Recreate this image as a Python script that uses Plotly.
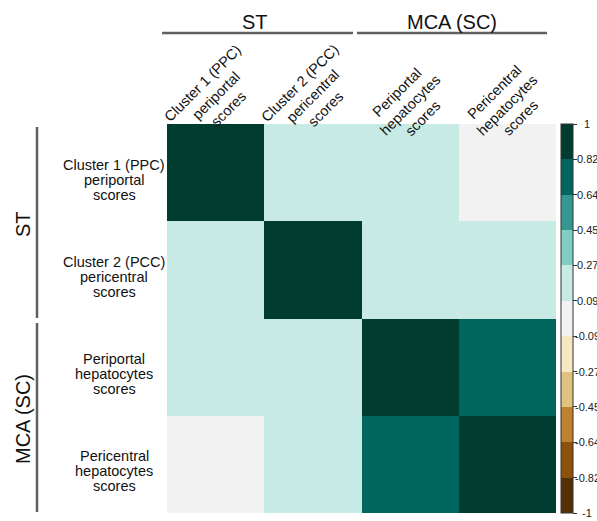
import math
import plotly.graph_objects as go

# Score categories (rows and columns share the same order)
categories = [
    "Cluster 1 (PPC)<br>periportal<br>scores",
    "Cluster 2 (PCC)<br>pericentral<br>scores",
    "Periportal<br>hepatocytes<br>scores",
    "Pericentral<br>hepatocytes<br>scores",
]
groups = ["ST", "MCA (SC)"]

# Pairwise correlation of the scores
corr = [
    [1.00, 0.21, 0.18, 0.03],
    [0.21, 1.00, 0.17, 0.19],
    [0.18, 0.17, 1.00, 0.74],
    [0.03, 0.19, 0.74, 1.00],
]

# Colorbar bin edges and labels
bin_edges = [-1 + 2 * k / 11 for k in range(12)]
bin_labels = ["-1", "-0.82", "-0.64", "-0.45", "-0.27", "-0.09",
              "0.09", "0.27", "0.45", "0.64", "0.82", "1"]

# Diverging brown–teal palette, 11 classes
palette = ["#543005", "#8c510a", "#bf812d", "#dfc27d", "#f6e8c3", "#f2f2f2",
           "#c7eae5", "#80cdc1", "#35978f", "#01665e", "#003c30"]

W, H = 597, 521
L, R, T, B = 167, 41, 124, 8
PW, PH = W - L - R, H - T - B

def px_x(p):
    return (p - L) / PW

def px_y(p):
    return (H - B - p) / PH

colorscale = []
n = len(palette)
for i, c in enumerate(palette):
    colorscale.append([i / n, c])
    colorscale.append([(i + 1) / n, c])

idx = list(range(len(categories)))

fig = go.Figure(go.Heatmap(
    z=corr, x=idx, y=idx,
    zmin=-1, zmax=1,
    colorscale=colorscale,
    hoverinfo="skip",
    colorbar=dict(
        x=px_x(561), xanchor="left", xpad=0,
        y=0.5, yanchor="middle", ypad=0,
        len=1, lenmode="fraction",
        thickness=12,
        outlinewidth=1, outlinecolor="#333333",
        tickvals=bin_edges, ticks="outside", ticklen=4,
        tickcolor="#333333", showticklabels=False,
    ),
))

font = "Liberation Sans, Arial, sans-serif"
lab_font = dict(family=font, size=14.5, color="#111111")
ann = []

# colorbar labels, centred to the right of the bar
for v, t in zip(bin_edges, bin_labels):
    ann.append(dict(xref="paper", yref="paper", x=px_x(587), y=(v + 1) / 2,
                    text=t, showarrow=False, xanchor="center", yanchor="middle",
                    font=dict(family=font, size=11, color="#222222")))

# row labels, one line per annotation for tight leading
row_off = 7
line_sp = 15
for i, lab in enumerate(categories):
    for j, ln in enumerate(lab.split("<br>")):
        ann.append(dict(xref="paper", yref="y", x=px_x(114), y=i,
                        yshift=-(row_off + (j - 1) * line_sp),
                        text=ln, showarrow=False, xanchor="center", yanchor="middle",
                        font=lab_font))

# rotated column labels, each line stepped perpendicular to the text direction
col_center_y = [96, 96, 105, 105]
rot_sp = 18
step = rot_sp / math.sqrt(2)
for i, lab in enumerate(categories):
    for j, ln in enumerate(lab.split("<br>")):
        k = j - 1
        ann.append(dict(xref="x", yref="paper", x=i, y=px_y(col_center_y[i]),
                        xshift=k * step, yshift=-k * step,
                        text=ln, showarrow=False, textangle=-45,
                        xanchor="center", yanchor="middle", font=lab_font))

# group headers
gfont = dict(family=font, size=20, color="#111111")
top_centers = [255, 452]
left_centers = [224, 419]
for g, cx, cy in zip(groups, top_centers, left_centers):
    ann.append(dict(xref="paper", yref="paper", x=px_x(cx), y=px_y(22), text=g,
                    showarrow=False, xanchor="center", yanchor="middle", font=gfont))
    ann.append(dict(xref="paper", yref="paper", x=px_x(23), y=px_y(cy), text=g,
                    textangle=-90, showarrow=False, xanchor="center",
                    yanchor="middle", font=gfont))

line_style = dict(color="#606060", width=2.5)
shapes = [
    dict(type="line", xref="paper", yref="paper", x0=px_x(162), x1=px_x(353),
         y0=px_y(33), y1=px_y(33), line=line_style),
    dict(type="line", xref="paper", yref="paper", x0=px_x(357), x1=px_x(547),
         y0=px_y(33), y1=px_y(33), line=line_style),
    dict(type="line", xref="paper", yref="paper", x0=px_x(37), x1=px_x(37),
         y0=px_y(127), y1=px_y(318), line=line_style),
    dict(type="line", xref="paper", yref="paper", x0=px_x(37), x1=px_x(37),
         y0=px_y(323), y1=px_y(512), line=line_style),
]

fig.update_layout(
    width=W, height=H,
    margin=dict(l=L, r=R, t=T, b=B),
    paper_bgcolor="white", plot_bgcolor="white",
    xaxis=dict(visible=False, range=[-0.5, 3.5], showgrid=False, zeroline=False),
    yaxis=dict(visible=False, range=[3.5, -0.5], showgrid=False, zeroline=False),
    annotations=ann, shapes=shapes,
    font=dict(family=font),
)

fig.write_html("out.html")
